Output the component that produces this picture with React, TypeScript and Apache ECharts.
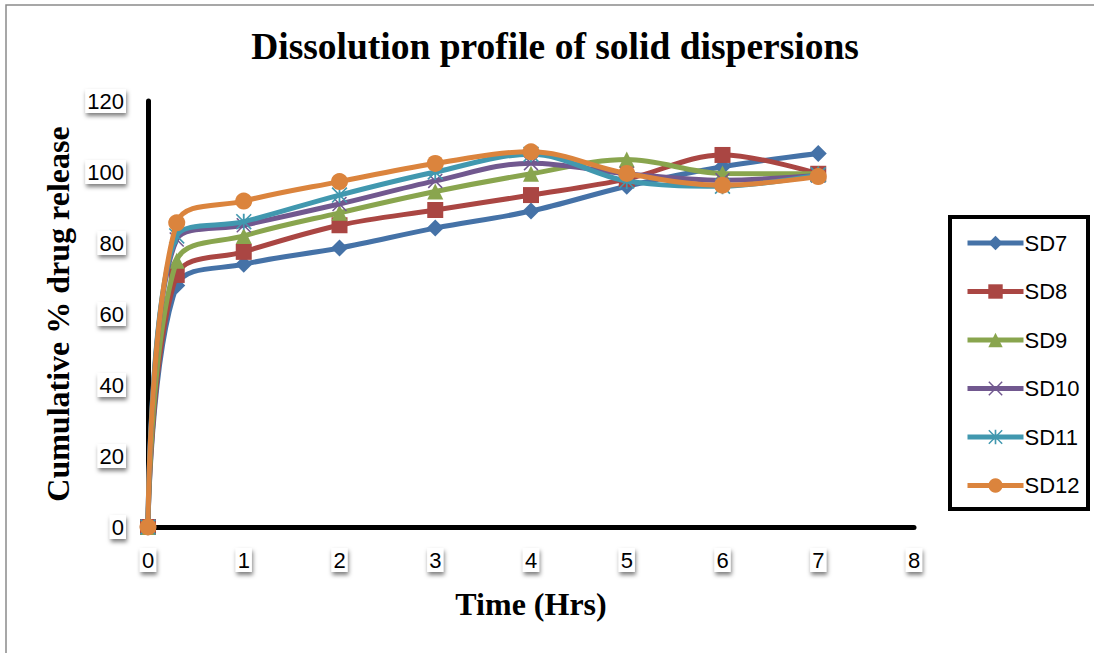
import React, { useEffect, useRef } from "react";
import * as echarts from "echarts";

const times = [0, 0.3, 1, 2, 3, 4, 5, 6, 7];
const seriesNames = ["SD7", "SD8", "SD9", "SD10", "SD11", "SD12"];
const sd7 = [0, 68, 74, 78.6, 84.2, 89, 96, 101.5, 105.2];
const sd8 = [0, 71, 77.5, 85, 89.3, 93.5, 98, 104.8, 99.5];
const sd9 = [0, 75, 82, 88.5, 94.5, 99.5, 103.5, 99.6, 99.5];
const sd10 = [0, 81, 85, 91, 97.5, 102.5, 99.5, 97.7, 99];
const sd11 = [0, 82, 86, 93.5, 100, 105, 97.5, 96, 99.2];
const sd12 = [0, 85.7, 91.8, 97.3, 102.4, 105.7, 99.6, 96.3, 98.7];
const allValues = [sd7, sd8, sd9, sd10, sd11, sd12];
const xTicks = ["0", "1", "2", "3", "4", "5", "6", "7", "8"];
const yTicks = ["0", "20", "40", "60", "80", "100", "120"];

const colors = ["#4572a7", "#aa4643", "#89a54e", "#71588f", "#4198af", "#db843d"];
const X_PATH = "path://M0,1 L1,0 L14,13 L13,14 Z M13,0 L14,1 L1,14 L0,13 Z";
const STAR_PATH =
  "path://M0,1 L1,0 L14,13 L13,14 Z M13,0 L14,1 L1,14 L0,13 Z M6.2,0 L7.8,0 L7.8,14 L6.2,14 Z";
const symbols = ["diamond", "rect", "triangle", X_PATH, STAR_PATH, "circle"];
const symbolSizes = [17, 16, 16, 15, 16, 17];

export default function App() {
  const ref = useRef<HTMLDivElement>(null);
  useEffect(() => {
    if (!ref.current) return;
    const chart = echarts.init(ref.current, undefined, { renderer: "svg" });
    const labelBox = {
      backgroundColor: "#ffffff",
      padding: [1, 2, 1, 2],
      shadowColor: "rgba(0,0,0,0.5)",
      shadowBlur: 4,
      shadowOffsetX: 1,
      shadowOffsetY: 3,
    };
    chart.setOption({
      animation: false,
      backgroundColor: "#ffffff",
      title: {
        text: "Dissolution profile of solid dispersions",
        left: 550,
        textAlign: "center",
        top: 22,
        textStyle: {
          fontFamily: "Liberation Serif",
          fontWeight: "bold",
          fontSize: 37.5,
          color: "#000",
        },
      },
      graphic: [
        {
          type: "rect",
          shape: { x: 6, y: 5, width: 1100, height: 700 },
          style: { fill: "none", stroke: "#8a8a8a", lineWidth: 1.5 },
          silent: true,
          z: -1,
        },
        {
          type: "rect",
          shape: { x: 950, y: 217, width: 138, height: 292 },
          style: { fill: "none", stroke: "#000", lineWidth: 4 },
          silent: true,
        },
      ],
      legend: {
        orient: "vertical",
        left: 960,
        top: 227,
        itemWidth: 56,
        itemHeight: 18,
        itemGap: 26.5,
        data: seriesNames,
        lineStyle: { width: 5 },
        textStyle: { fontFamily: "Liberation Sans", fontSize: 22, color: "#000", padding: [0, 0, 0, -4] },
      },
      grid: { left: 148, right: 180, top: 101, bottom: 126 },
      xAxis: {
        type: "value",
        min: 0,
        max: 8,
        interval: 1,
        name: "Time (Hrs)",
        nameLocation: "middle",
        nameGap: 61,
        nameTextStyle: {
          fontFamily: "Liberation Serif",
          fontWeight: "bold",
          fontSize: 32,
          color: "#000",
        },
        axisLine: { show: true, onZero: false, lineStyle: { color: "#000", width: 5 } },
        axisTick: { show: false },
        splitLine: { show: false },
        axisLabel: {
          margin: 21,
          fontFamily: "Liberation Sans",
          fontSize: 22,
          color: "#000",
          formatter: (v: number) => xTicks[Math.round(v)] ?? "",
          ...labelBox,
        },
      },
      yAxis: {
        type: "value",
        min: 0,
        max: 120,
        interval: 20,
        name: "Cumulative % drug release",
        nameLocation: "middle",
        nameRotate: 90,
        nameGap: 70,
        nameTextStyle: {
          fontFamily: "Liberation Serif",
          fontWeight: "bold",
          fontSize: 32,
          color: "#000",
        },
        axisLine: { show: true, lineStyle: { color: "#000", width: 5 } },
        axisTick: { show: false },
        splitLine: { show: false },
        axisLabel: {
          margin: 22,
          fontFamily: "Liberation Sans",
          fontSize: 22,
          color: "#000",
          formatter: (v: number) => yTicks[Math.round(v / 20)] ?? "",
          ...labelBox,
        },
      },
      series: seriesNames.map((name, i) => ({
        name,
        type: "line",
        smooth: 0.35,
        data: times.map((t, j) => [t, allValues[i][j]]),
        symbol: symbols[i],
        symbolSize: symbolSizes[i],
        showAllSymbol: true,
        lineStyle: { color: colors[i], width: 5 },
        itemStyle: { color: colors[i] },
        z: 2 + i,
      })),
    });
    return () => chart.dispose();
  }, []);
  return (
    <div
      ref={ref}
      style={{ position: "fixed", left: 0, top: 0, width: 1094, height: 653 }}
    />
  );
}
